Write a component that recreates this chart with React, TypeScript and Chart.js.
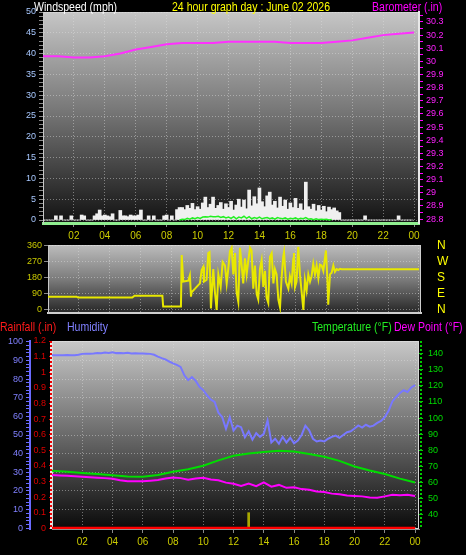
import React, { useEffect, useRef } from 'react';
import { Chart, registerables } from 'chart.js';

Chart.register(...registerables);

const FONT = "'Liberation Sans', Arial, sans-serif";

// ---------- shared x axis ----------
const HOUR_TICKS = [2, 4, 6, 8, 10, 12, 14, 16, 18, 20, 22, 24];
const HOUR_LABELS = ['02', '04', '06', '08', '10', '12', '14', '16', '18', '20', '22', '00'];

// ---------- top panel: wind speed + barometer ----------
const HOURLY = [0, 1, 2, 3, 4, 5, 6, 7, 8, 9, 10, 11, 12, 13, 14, 15, 16, 17, 18, 19, 20, 21, 22, 23, 24];
const BARO = [30.04, 30.04, 30.03, 30.03, 30.04, 30.06, 30.09, 30.11, 30.13, 30.14, 30.14, 30.14, 30.15,
  30.15, 30.15, 30.15, 30.14, 30.14, 30.14, 30.15, 30.16, 30.18, 30.20, 30.21, 30.22];
const BARO_TITLE = 'Barometer (.in)';
const SPEED_TITLE = 'Windspeed (mph)';
const MAIN_TITLE = '24 hour graph day : June 02 2026';

const WIND_SAMPLE_MIN = 10;
const GUST = [
  0, 0, 0, 0, 0, 1, 0, 1, 0, 0, 0, 1,
  0, 0, 0, 1.2, 1, 0, 0, 0, 1, 1.5, 2.4, 1,
  1.2, 1, 0.8, 1.5, 0, 0, 2.3, 1, 1, 0.8, 1.2, 1,
  1, 1.2, 2.4, 0, 0, 1, 0, 1, 0, 0, 0, 1,
  1.2, 0, 1, 0, 2.5, 3, 3, 2.5, 3.5, 2.8, 4, 2.5,
  3.2, 2.6, 4.1, 5.5, 3, 3.8, 5.5, 2.8, 3.5, 4.2, 2.6, 3.9,
  3, 4.5, 2.4, 3.6, 5, 3.1, 4.8, 2.7, 7.2, 3.4, 5.6, 3.9,
  7.7, 4.4, 3.2, 5.8, 6.7, 3.6, 4.5, 2.9, 5.5, 3.3, 4.8, 2.6,
  4.1, 3, 5.2, 2.8, 3.9, 2.4, 9.1, 3.2, 2.6, 3.8, 2.2, 3.5,
  2.4, 3.3, 2, 3.1, 2.5, 2.9, 2.2, 1.8, 0, 0, 0, 0,
  0, 0, 0, 0, 0, 1, 0, 0, 0, 0, 0, 0,
  0, 0, 0, 0, 0, 0, 1, 0, 0, 0, 0, 0,
];
const N = null;
const AVG_WIND = [
  N, N, N, N, N, N, N, N, N, N, N, N,
  N, N, N, N, N, N, N, N, N, N, N, N,
  N, N, N, N, N, N, N, N, N, N, N, N,
  N, N, N, N, N, N, N, N, N, N, N, N,
  N, N, N, N, N, 0, 0.2, 0.1, 0.4, 0.2, 0.5, 0.3,
  0.6, 0.4, 0.7, 0.8, 0.7, 0.9, 0.8, 0.8, 0.9, 0.6, 0.8, 0.5,
  0.7, 0.4, 0.8, 0.3, 0.7, 0.5, 0.9, 0.4, 0.8, 0.3, 0.6, 0.4,
  0.7, 0.3, 0.5, 0.6, 0.3, 0.5, 0.2, 0.6, 0.4, 0.3, 0.5, 0.2,
  0.4, 0.3, 0.5, 0.2, 0.4, 0.3, 0.6, 0.2, 0.3, 0.1, 0.3, 0.1,
  0.2, 0.1, 0.2, 0, 0.1, N, N, N, N, N, N, N,
  N, N, N, N, N, N, N, N, N, N, N, N,
  N, N, N, N, N, N, N, N, N, N, N, N,
];

// ---------- middle panel: wind direction ----------
const DIR_TICKS = [0, 90, 180, 270, 360];
const DIR_TICK_LABELS = ['0', '90', '180', '270', '360'];
const COMPASS_LABELS = ['N', 'E', 'S', 'W', 'N'];
const DIR_HOURS = [0, 1.85, 1.95, 5.45, 5.6, 7.4, 7.45, 8.6,
  8.65, 8.75, 9.08, 9.18, 9.25, 9.29, 9.51, 9.72, 9.83, 9.94,
  10.05, 10.09, 10.26, 10.37, 10.45, 10.54, 10.69, 10.8, 10.91, 11.02,
  11.17, 11.3, 11.45, 11.56, 11.66, 11.77, 11.88, 11.99, 12.1, 12.2,
  12.31, 12.42, 12.53, 12.63, 12.74, 12.85, 12.96, 13.07, 13.17, 13.28,
  13.39, 13.5, 13.6, 13.71, 13.82, 13.93, 14.04, 14.14, 14.25, 14.36,
  14.47, 14.58, 14.68, 14.79, 14.9, 15.01, 15.11, 15.22, 15.27, 15.39,
  15.55, 15.65, 15.76, 15.87, 15.91, 15.98, 16.08, 16.19, 16.3, 16.41,
  16.52, 16.62, 16.73, 16.84, 16.95, 17.05, 17.16, 17.27, 17.38, 17.49,
  17.59, 17.7, 17.81, 17.98, 18.07, 18.13, 18.24, 18.35, 18.46, 18.56,
  18.67, 18.78, 18.89, 18.99, 24];
const DIR_DEG = [75, 75, 70, 70, 80, 80, 19, 19,
  309, 160, 165, 195, 75, 100, 120, 140, 150, 225,
  243, 160, 170, 320, 325, 8, 230, 100, 0, 200,
  130, 270, 250, 150, 230, 330, 350, 200, 320, 100,
  47, 350, 250, 150, 290, 200, 280, 350, 335, 120,
  250, 90, 60, 230, 280, 130, 220, 70, 40, 300,
  320, 150, 230, 200, 60, 15, 180, 300, 325, 160,
  120, 190, 150, 290, 320, 130, 160, 355, 200, 100,
  0, 170, 110, 200, 160, 190, 260, 200, 250, 180,
  255, 250, 220, 335, 180, 30, 200, 210, 250, 215,
  230, 225, 232, 229, 229];

// ---------- bottom panel: rain, humidity, temperature, dew point ----------
const RAIN_TICKS = [0, 0.1, 0.2, 0.3, 0.4, 0.5, 0.6, 0.7, 0.8, 0.9, 1, 1.1, 1.2];
const RAIN_LABELS = ['0', '0.1', '0.2', '0.3', '0.4', '0.5', '0.6', '0.7', '0.8', '0.9', '1', '1.1', '1.2'];
const TEMP_TICKS = [40, 50, 60, 70, 80, 90, 100, 110, 120, 130, 140];
const TEMP_LABELS = ['40', '50', '60', '70', '80', '90', '100', '110', '120', '130', '140'];
const RAIN_TITLE = 'Rainfall (.in)';
const HUM_TITLE = 'Humidity';
const TEMP_TITLE = 'Temperature (°F)';
const DEW_TITLE = 'Dew Point (°F)';

const HUM_SAMPLE_MIN = 15;
const HUMIDITY = [
  92.8, 92.8, 92.7, 92.8, 92.9, 92.8, 92.8, 93.0,
  93.5, 93.6, 93.5, 93.7, 94.0, 93.8, 94.2, 94.0,
  94.3, 93.9, 94.0, 93.8, 94.1, 93.7, 93.8, 93.7,
  93.7, 93.6, 93.5, 93.0, 92.0, 91.2, 90.5, 89.4,
  88.4, 87.6, 86.5, 82.0, 79.4, 81.1, 79.0, 75.8,
  74.0, 71.3, 69.0, 67.7, 62.0, 59.6, 53.3, 59.6,
  52.4, 55.0, 54.2, 48.8, 52.0, 47.5, 51.0, 49.0,
  50.6, 57.8, 46.0, 48.0, 45.3, 49.0, 46.0, 48.5,
  45.5, 47.0, 50.0, 55.0, 52.5, 48.0, 46.5, 47.0,
  46.5, 48.0, 49.0, 49.7, 48.5, 50.0, 51.5, 52.0,
  53.5, 55.1, 54.0, 55.5, 54.5, 55.0, 56.5, 57.5,
  59.6, 63.0, 68.0, 70.4, 72.5, 74.0, 73.0, 75.5,
  76.7,
];
const TEMPERATURE = [67.4, 66.8, 66.0, 65.4, 64.6, 63.8, 63.6, 64.8, 66.8, 68.3, 70.5, 73.8, 76.6,
  78.0, 79.0, 79.8, 79.3, 77.8, 76.0, 73.5, 70.0, 67.5, 65.3, 62.5, 60.1];
const DEW_SAMPLE_MIN = 30;
const DEW_POINT = [
  64.7, 64.5, 64.2, 63.9, 63.6, 63.3, 63.0, 62.8, 62.4, 61.5, 60.8, 60.9,
  60.9, 61.2, 61.6, 62.5, 63.2, 62.8, 61.8, 62.6, 63.0, 62.0, 61.5, 60.0,
  59.3, 58.0, 59.5, 57.8, 60.2, 57.5, 58.6, 56.8, 57.2, 56.0, 55.6, 54.5,
  54.2, 53.2, 52.8, 52.0, 51.8, 51.5, 50.8, 50.6, 51.5, 52.5, 52.2, 52.5,
  51.8,
];
const RAIN_TOTAL = [0, 0, 0, 0, 0, 0, 0, 0, 0, 0, 0, 0, 0, 0, 0, 0, 0, 0, 0, 0, 0, 0, 0, 0, 0];
const RAIN_RATE_HOURS = [13.0];
const RAIN_RATE = [0.1];

// ---------- helpers ----------
const GRID = 'rgba(225,225,225,0.45)';
const tickFont = { family: FONT, size: 9 };

const pts = (xs: number[], ys: (number | null)[]) => ys.map((y, i) => ({ x: xs[i], y }));
const sampled = (ys: (number | null)[], stepMin: number) => ys.map((y, i) => ({ x: (i * stepMin) / 60, y }));

function backdrop(stops: [number, string][], frame: string) {
  return {
    id: 'backdrop',
    beforeDraw(chart: any) {
      const { ctx, chartArea: a } = chart;
      if (!a) return;
      const g = ctx.createLinearGradient(0, a.top, 0, a.bottom);
      stops.forEach(([o, c]) => g.addColorStop(o, c));
      ctx.save();
      ctx.fillStyle = g;
      ctx.fillRect(a.left, a.top, a.right - a.left, a.bottom - a.top);
      ctx.strokeStyle = frame;
      ctx.lineWidth = 1;
      ctx.strokeRect(a.left + 0.5, a.top + 0.5, a.right - a.left - 1, a.bottom - a.top - 1);
      ctx.restore();
    },
  };
}

const fixedTicks = (values: number[]) => (s: any) => {
  s.ticks = values.map((v) => ({ value: v }));
};

const hourAxis = (max: number, height: number, showLabels: boolean, borderColor: string, borderWidth: number) => ({
  type: 'linear' as const,
  min: 0,
  max,
  offset: false,
  afterBuildTicks: fixedTicks(HOUR_TICKS),
  afterFit: (s: any) => { s.height = height; },
  ticks: {
    display: showLabels,
    autoSkip: false,
    maxRotation: 0,
    padding: 3,
    color: '#cccc00',
    font: { family: FONT, size: 10 },
    callback: (_v: any, i: number) => HOUR_LABELS[i],
  },
  grid: { offset: false, color: GRID, drawTicks: showLabels, tickLength: 4, tickColor: '#8a8a8a' },
  border: { color: borderColor, width: borderWidth, dash: [1, 2] },
});

const bottomAxisLines = {
  id: 'bottomAxisLines',
  afterDraw(chart: any) {
    const { ctx, chartArea: a, scales } = chart;
    const rx = scales.yRain.right - 1;
    const tx = scales.yTemp.left + 2;
    ctx.save();
    ctx.lineWidth = 2;
    ctx.strokeStyle = '#e8e8e8';
    ctx.beginPath(); ctx.moveTo(rx, a.top); ctx.lineTo(rx, a.bottom); ctx.stroke();
    ctx.setLineDash([2, 2]);
    ctx.strokeStyle = '#ee0000';
    ctx.beginPath(); ctx.moveTo(rx, a.top); ctx.lineTo(rx, a.bottom); ctx.stroke();
    ctx.strokeStyle = '#00cc00';
    ctx.beginPath(); ctx.moveTo(tx, a.top); ctx.lineTo(tx, a.bottom); ctx.stroke();
    ctx.restore();
  },
};

function Label({ text, left, top, color }: { text: string; left: number; top: number; color: string }) {
  return (
    <div
      style={{
        position: 'absolute', left, top, color, font: `13px ${FONT}`, lineHeight: '13px', whiteSpace: 'nowrap',
        transform: 'scaleX(0.81)', transformOrigin: '0 0',
      }}
    >
      {text}
    </div>
  );
}

export default function App() {
  const topRef = useRef<HTMLCanvasElement>(null);
  const midRef = useRef<HTMLCanvasElement>(null);
  const botRef = useRef<HTMLCanvasElement>(null);

  useEffect(() => {
    document.body.style.margin = '0';
    document.body.style.background = '#000';
    Chart.defaults.font.family = FONT;
    Chart.defaults.font.size = 9;

    const common = {
      responsive: false,
      animation: false as const,
      plugins: { legend: { display: false }, tooltip: { enabled: false } },
    };

    const top = new Chart(topRef.current!, {
      type: 'bar',
      data: {
        datasets: [
          { type: 'line', label: 'Barometer', data: pts(HOURLY, BARO), yAxisID: 'yBaro', borderColor: '#ff30ff', borderWidth: 2, pointRadius: 0, order: 0 } as any,
          { type: 'line', label: 'Wind speed', data: sampled(AVG_WIND, WIND_SAMPLE_MIN), yAxisID: 'ySpeed', borderColor: '#22f022', borderWidth: 1.5, pointRadius: 0, spanGaps: false, order: 1 } as any,
          { type: 'bar', label: 'Gust', data: sampled(GUST, WIND_SAMPLE_MIN), yAxisID: 'ySpeed', backgroundColor: '#f0f0f0', barThickness: 3, order: 2 } as any,
        ],
      },
      options: {
        ...common,
        layout: { padding: { top: 12, left: 0, right: 0, bottom: 0 } },
        scales: {
          x: hourAxis(24.32, 22, true, '#90ee90', 3) as any,
          ySpeed: {
            position: 'left',
            min: -0.72,
            max: 50,
            afterFit: (s: any) => { s.width = 43; },
            ticks: {
              stepSize: 1, autoSkip: false, includeBounds: false, padding: 3,
              color: '#a8c8ff', font: tickFont,
              callback: (v: any) => (Math.round(v) % 5 === 0 ? String(Math.round(v)) : ''),
            },
            grid: {
              color: (c: any) => (c.tick && Math.round(c.tick.value) % 5 === 0 ? GRID : 'transparent'),
              tickColor: '#8a8a8a', tickLength: 4,
            },
            border: { color: '#c8c8c8', width: 1, dash: [1, 2] },
          },
          yBaro: {
            position: 'right',
            min: 28.77,
            max: 30.376,
            afterFit: (s: any) => { s.width = 47; },
            ticks: {
              stepSize: 0.05, autoSkip: false, includeBounds: false, padding: 3,
              color: '#ff20ff', font: tickFont,
              callback: (v: any) => {
                const t = Math.round(v * 100);
                return t % 10 === 0 ? String(t / 100) : '';
              },
            },
            grid: { drawOnChartArea: false, tickColor: '#ff00ff', tickLength: 4 },
            border: { color: '#e8e8e8', width: 2 },
          },
        },
      } as any,
      plugins: [backdrop([[0, '#c6c6c6'], [0.45, '#7a7a7a'], [1, '#121212']], '#d0d0d0')],
    });

    const mid = new Chart(midRef.current!, {
      type: 'line',
      data: {
        datasets: [
          { label: 'Wind direction', data: pts(DIR_HOURS, DIR_DEG), yAxisID: 'yDir', borderColor: '#e8e800', borderWidth: 2, pointRadius: 0 } as any,
        ],
      },
      options: {
        ...common,
        layout: { padding: { top: 15, left: 0, right: 0, bottom: 0 } },
        scales: {
          x: hourAxis(24.13, 9, false, '#cfcfcf', 2) as any,
          yDir: {
            position: 'left',
            min: -17,
            max: 365.6,
            afterBuildTicks: fixedTicks(DIR_TICKS),
            afterFit: (s: any) => { s.width = 48; },
            ticks: { autoSkip: false, padding: 2, color: '#c8c800', font: tickFont, callback: (_v: any, i: number) => DIR_TICK_LABELS[i] },
            grid: { color: GRID, tickColor: '#8a8a8a', tickLength: 4 },
            border: { color: '#c8c8c8', width: 1, dash: [1, 2] },
          },
          yCompass: {
            position: 'right',
            min: -17,
            max: 365.6,
            afterBuildTicks: fixedTicks(DIR_TICKS),
            afterFit: (s: any) => { s.width = 45; },
            ticks: { autoSkip: false, padding: 1, color: '#ffff00', font: { family: FONT, size: 12 }, callback: (_v: any, i: number) => COMPASS_LABELS[i] },
            grid: { display: true, drawOnChartArea: false, tickLength: 15, tickColor: 'rgba(0,0,0,0)' },
            border: { display: false },
          },
        },
      } as any,
      plugins: [backdrop([[0, '#bcbcbc'], [0.5, '#7c7c7c'], [1, '#262626']], '#cfcfcf')],
    });

    const bot = new Chart(botRef.current!, {
      type: 'line',
      data: {
        datasets: [
          { label: 'Rainfall', data: pts(HOURLY, RAIN_TOTAL), yAxisID: 'yRain', borderColor: '#ff0000', borderWidth: 3, pointRadius: 0, order: 0 } as any,
          { type: 'bar', label: 'Rain rate', data: pts(RAIN_RATE_HOURS, RAIN_RATE), yAxisID: 'yRain', backgroundColor: '#a8a800', barThickness: 2, order: 1 } as any,
          { label: 'Humidity', data: sampled(HUMIDITY, HUM_SAMPLE_MIN), yAxisID: 'yHum', borderColor: '#7878ff', borderWidth: 2, pointRadius: 0, order: 2 } as any,
          { label: 'Temperature', data: pts(HOURLY, TEMPERATURE), yAxisID: 'yTemp', borderColor: '#00dd00', borderWidth: 2, pointRadius: 0, order: 3 } as any,
          { label: 'Dew Point', data: sampled(DEW_POINT, DEW_SAMPLE_MIN), yAxisID: 'yTemp', borderColor: '#ff00ff', borderWidth: 2, pointRadius: 0, order: 4 } as any,
        ],
      },
      options: {
        ...common,
        layout: { padding: { top: 21, left: 0, right: 0, bottom: 0 } },
        scales: {
          x: hourAxis(24.26, 26, true, '#909090', 1) as any,
          yHum: {
            position: 'left',
            weight: 1,
            min: -0.4,
            max: 100.4,
            afterFit: (s: any) => { s.width = 30; },
            ticks: {
              stepSize: 2, autoSkip: false, includeBounds: false, padding: 3,
              color: '#8080ff', font: tickFont,
              callback: (v: any) => (Math.round(v) % 10 === 0 ? String(Math.round(v)) : ''),
            },
            grid: {
              color: (c: any) => (c.tick && Math.round(c.tick.value) % 10 === 0 ? GRID : 'transparent'),
              tickColor: '#6a6aff', tickLength: 4,
            },
            border: { color: '#6a6aff', width: 2, dash: [1, 2] },
          },
          yRain: {
            position: 'left',
            weight: 0,
            min: -0.0045,
            max: 1.2,
            afterBuildTicks: fixedTicks(RAIN_TICKS),
            afterFit: (s: any) => { s.width = 22; },
            ticks: { autoSkip: false, padding: 3, color: '#dd0000', font: tickFont, callback: (_v: any, i: number) => RAIN_LABELS[i] },
            grid: { drawOnChartArea: false, tickColor: '#dd0000', tickLength: 3 },
            border: { display: false },
          },
          yTemp: {
            position: 'right',
            min: 31.3,
            max: 147.7,
            afterBuildTicks: fixedTicks(TEMP_TICKS),
            afterFit: (s: any) => { s.width = 47; },
            ticks: { autoSkip: false, padding: 5, color: '#00dd00', font: tickFont, callback: (_v: any, i: number) => TEMP_LABELS[i] },
            grid: { drawOnChartArea: false, tickColor: '#00cc00', tickLength: 4 },
            border: { display: false },
          },
        },
      } as any,
      plugins: [backdrop([[0, '#c8c8c8'], [0.5, '#6a6a6a'], [1, '#0a0a0a']], '#d8d8d8'), bottomAxisLines],
    });

    return () => {
      top.destroy();
      mid.destroy();
      bot.destroy();
    };
  }, []);

  return (
    <div style={{ position: 'relative', width: 466, height: 555, background: '#000', overflow: 'hidden' }}>
      <canvas ref={topRef} width={466} height={245} style={{ position: 'absolute', left: 0, top: 0 }} />
      <canvas ref={midRef} width={466} height={92} style={{ position: 'absolute', left: 0, top: 230 }} />
      <canvas ref={botRef} width={466} height={235} style={{ position: 'absolute', left: 0, top: 320 }} />
      <Label text={SPEED_TITLE} left={34} top={0} color="#ffffff" />
      <Label text={MAIN_TITLE} left={172} top={0} color="#ffff00" />
      <Label text={BARO_TITLE} left={372} top={0} color="#ff00ff" />
      <Label text={RAIN_TITLE} left={0} top={320} color="#ff1a1a" />
      <Label text={HUM_TITLE} left={67} top={320} color="#8080ff" />
      <Label text={TEMP_TITLE} left={312} top={320} color="#22ee22" />
      <Label text={DEW_TITLE} left={394} top={320} color="#ff00ff" />
    </div>
  );
}
